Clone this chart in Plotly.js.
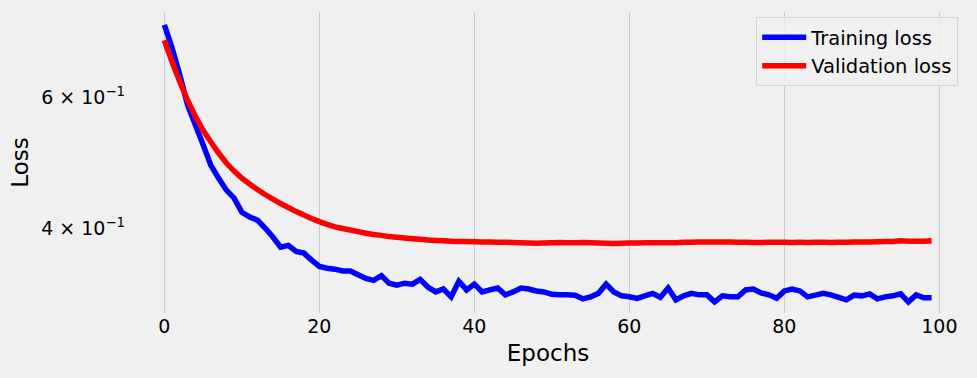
<!DOCTYPE html>
<html>
<head>
<meta charset="utf-8">
<script src="https://cdn.plot.ly/plotly-3.0.1.min.js"></script>
<style>
  html, body { margin: 0; padding: 0; background: #f0f0f0; }
  #chart { width: 977px; height: 378px; }
</style>
</head>
<body>
<div id="chart"></div>
<script>
const epochs = Array.from({length: 100}, (_, i) => i);

const trainingLoss = [
  0.752, 0.700, 0.643, 0.586, 0.551, 0.518, 0.486, 0.467, 0.450, 0.439,
  0.420, 0.414, 0.410, 0.400, 0.389, 0.377, 0.379, 0.372, 0.370, 0.362,
  0.355, 0.353, 0.352, 0.350, 0.350, 0.346, 0.342, 0.340, 0.345, 0.337,
  0.335, 0.337, 0.336, 0.341, 0.333, 0.328, 0.331, 0.323, 0.339, 0.330,
  0.336, 0.328, 0.330, 0.332, 0.325, 0.328, 0.332, 0.331, 0.329, 0.328,
  0.3255, 0.325, 0.325, 0.3247, 0.321, 0.323, 0.3265, 0.336, 0.328, 0.324,
  0.323, 0.3215, 0.324, 0.3265, 0.3225, 0.332, 0.320, 0.324, 0.3265, 0.325,
  0.325, 0.318, 0.324, 0.323, 0.323, 0.330, 0.331, 0.327, 0.325, 0.3215,
  0.329, 0.331, 0.329, 0.323, 0.3247, 0.3265, 0.325, 0.3225, 0.320, 0.3247,
  0.324, 0.326, 0.321, 0.323, 0.324, 0.326, 0.318, 0.325, 0.322, 0.322
];

const validationLoss = [
  0.717, 0.670, 0.630, 0.595, 0.566, 0.542, 0.5225, 0.505, 0.4895, 0.4775,
  0.467, 0.4586, 0.4508, 0.4439, 0.4377, 0.4316, 0.4263, 0.4210, 0.4165, 0.412,
  0.408, 0.4045, 0.4015, 0.3995, 0.3975, 0.3955, 0.3935, 0.392, 0.391, 0.3895,
  0.3886, 0.3877, 0.3869, 0.3862, 0.3853, 0.3849, 0.3844, 0.3840, 0.3837, 0.3835,
  0.3833, 0.3830, 0.3830, 0.3828, 0.3827, 0.3824, 0.3821, 0.3818, 0.3816, 0.3818,
  0.3821, 0.3824, 0.3821, 0.3821, 0.3824, 0.3821, 0.3818, 0.3815, 0.3811, 0.3816,
  0.3818, 0.3818, 0.3821, 0.3821, 0.3822, 0.3820, 0.3822, 0.3826, 0.3828, 0.3830,
  0.3830, 0.3830, 0.3830, 0.3829, 0.3828, 0.3826, 0.3825, 0.3825, 0.3826, 0.3828,
  0.3828, 0.3825, 0.3826, 0.3825, 0.3826, 0.3828, 0.3825, 0.3826, 0.3828, 0.3830,
  0.3830, 0.3830, 0.3832, 0.3835, 0.3837, 0.3845, 0.3840, 0.3839, 0.3840, 0.3845
];

const xTickVals = [0, 20, 40, 60, 80, 100];
const yTickVals = [0.4, 0.6];
const yTickText = ["4 × 10<sup>−1</sup>", "6 × 10<sup>−1</sup>"];

const font = "DejaVu Sans, sans-serif";

const traces = [
  {
    x: epochs, y: trainingLoss, type: "scatter", mode: "lines",
    name: "Training loss",
    line: {color: "#0000ff", width: 5.5, simplify: false}
  },
  {
    x: epochs, y: validationLoss, type: "scatter", mode: "lines",
    name: "Validation loss",
    line: {color: "#ff0000", width: 5.5, simplify: false}
  }
];

const layout = {
  width: 977, height: 378,
  paper_bgcolor: "#f0f0f0",
  plot_bgcolor: "#f0f0f0",
  margin: {l: 126, r: 7, t: 12, b: 65},
  font: {family: font, color: "#000000", size: 19},
  showlegend: true,
  legend: {
    x: 0.986, y: 0.983, xanchor: "right", yanchor: "top",
    bgcolor: "rgba(240,240,240,0.8)",
    bordercolor: "#d6d6d6", borderwidth: 1,
    font: {family: font, size: 19.5, color: "#000000"},
    itemwidth: 44,
    tracegroupgap: 4
  },
  xaxis: {
    range: [-4.95, 103.95],
    tickvals: xTickVals,
    ticktext: xTickVals.map(String),
    showgrid: true, gridcolor: "#cbcbcb", gridwidth: 1.3,
    zeroline: false, showline: false,
    ticks: "", ticklen: 0,
    tickfont: {family: font, size: 19, color: "#000000"},
    automargin: true,
    title: {text: "Epochs", standoff: 8, font: {family: font, size: 23, color: "#000000"}}
  },
  yaxis: {
    type: "log",
    range: [-0.5126, -0.1064],
    tickvals: yTickVals,
    ticktext: yTickText,
    showgrid: false,
    zeroline: false, showline: false,
    ticks: "", ticklen: 0,
    tickfont: {family: font, size: 19, color: "#000000"},
    automargin: true,
    title: {text: "Loss", standoff: 6, font: {family: font, size: 23, color: "#000000"}}
  }
};

Plotly.newPlot("chart", traces, layout, {displayModeBar: false, staticPlot: true});
</script>
</body>
</html>
